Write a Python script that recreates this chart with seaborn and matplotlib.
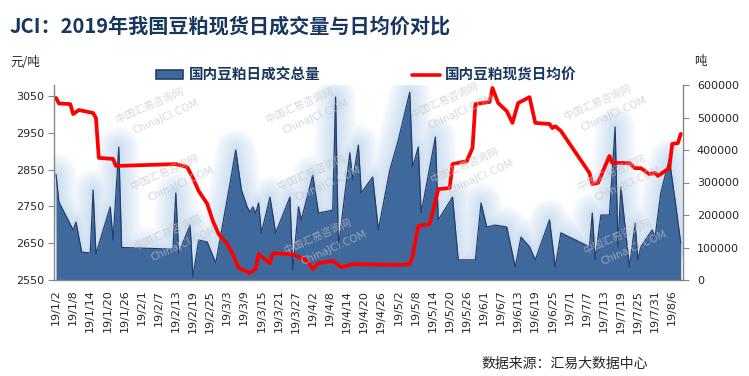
# JCI 2019 soybean meal spot: daily volume vs daily average price

import pandas as pd
import matplotlib.pyplot as plt
import seaborn as sns
from matplotlib.lines import Line2D
from matplotlib.patches import Patch
from matplotlib.ticker import FuncFormatter

# daily average price (yuan/ton)
price_dates = ['2019-01-02', '2019-01-03', '2019-01-07', '2019-01-08', '2019-01-10', '2019-01-15',
               '2019-01-16', '2019-01-17', '2019-01-22', '2019-01-23', '2019-02-13', '2019-02-17',
               '2019-02-19', '2019-02-21', '2019-02-24', '2019-02-26', '2019-02-28', '2019-03-03',
               '2019-03-05', '2019-03-07', '2019-03-11', '2019-03-13', '2019-03-14', '2019-03-18',
               '2019-03-19', '2019-03-26', '2019-03-31', '2019-04-02', '2019-04-04', '2019-04-09',
               '2019-04-12', '2019-04-16', '2019-05-02', '2019-05-06', '2019-05-07', '2019-05-09',
               '2019-05-13', '2019-05-14', '2019-05-16', '2019-05-20', '2019-05-21', '2019-05-26',
               '2019-05-28', '2019-05-29', '2019-06-03', '2019-06-04', '2019-06-06', '2019-06-09',
               '2019-06-11', '2019-06-13', '2019-06-17', '2019-06-19', '2019-06-24', '2019-06-25',
               '2019-06-26', '2019-06-28', '2019-07-08', '2019-07-09', '2019-07-11', '2019-07-15',
               '2019-07-16', '2019-07-22', '2019-07-24', '2019-07-26', '2019-07-29', '2019-07-31',
               '2019-08-01', '2019-08-05', '2019-08-06', '2019-08-08', '2019-08-09']
price_values = [3045, 3030, 3028, 3001, 3012, 3004,
                2990, 2882, 2879, 2860, 2865, 2857,
                2827, 2792, 2757, 2710, 2675, 2648,
                2620, 2583, 2569, 2580, 2620, 2596,
                2623, 2620, 2602, 2580, 2596, 2602,
                2585, 2593, 2591, 2593, 2615, 2697,
                2702, 2732, 2797, 2800, 2865, 2873,
                2909, 3028, 3034, 3072, 3031, 3009,
                2977, 3031, 3047, 2977, 2974, 2963,
                2968, 2955, 2841, 2811, 2814, 2887,
                2868, 2868, 2854, 2854, 2838, 2841,
                2833, 2854, 2920, 2922, 2947]

# daily traded volume (tons)
volume_dates = ['2019-01-02', '2019-01-03', '2019-01-08', '2019-01-09', '2019-01-11', '2019-01-14',
                '2019-01-15', '2019-01-16', '2019-01-21', '2019-01-22', '2019-01-24', '2019-01-25',
                '2019-02-12', '2019-02-13', '2019-02-14', '2019-02-18', '2019-02-19', '2019-02-21',
                '2019-02-24', '2019-02-27', '2019-03-04', '2019-03-06', '2019-03-08', '2019-03-10',
                '2019-03-11', '2019-03-12', '2019-03-13', '2019-03-14', '2019-03-15', '2019-03-18',
                '2019-03-20', '2019-03-25', '2019-03-26', '2019-03-28', '2019-03-29', '2019-04-02',
                '2019-04-04', '2019-04-09', '2019-04-10', '2019-04-11', '2019-04-15', '2019-04-16',
                '2019-04-18', '2019-04-19', '2019-04-23', '2019-04-25', '2019-04-29', '2019-05-02',
                '2019-05-06', '2019-05-07', '2019-05-09', '2019-05-10', '2019-05-15', '2019-05-16',
                '2019-05-21', '2019-05-23', '2019-05-29', '2019-05-31', '2019-06-02', '2019-06-05',
                '2019-06-09', '2019-06-12', '2019-06-14', '2019-06-17', '2019-06-19', '2019-06-24',
                '2019-06-26', '2019-06-28', '2019-07-08', '2019-07-09', '2019-07-10', '2019-07-12',
                '2019-07-15', '2019-07-17', '2019-07-18', '2019-07-19', '2019-07-22', '2019-07-24',
                '2019-07-25', '2019-07-26', '2019-07-30', '2019-07-31', '2019-08-02', '2019-08-05',
                '2019-08-07', '2019-08-09']
volume_values = [325000, 240000, 154000, 178000, 86000, 83000,
                 277000, 80000, 225000, 123000, 409000, 100000,
                 95000, 268000, 83000, 169000, 10000, 123000,
                 117000, 52000, 298000, 400000, 277000, 225000,
                 209000, 225000, 206000, 237000, 145000, 255000,
                 145000, 255000, 31000, 225000, 185000, 323000,
                 206000, 215000, 563000, 100000, 391000, 308000,
                 415000, 268000, 317000, 154000, 338000, 431000,
                 578000, 348000, 409000, 206000, 440000, 185000,
                 255000, 62000, 62000, 237000, 163000, 169000,
                 163000, 40000, 132000, 102000, 62000, 185000,
                 40000, 145000, 102000, 206000, 62000, 200000,
                 200000, 471000, 102000, 286000, 40000, 175000,
                 62000, 102000, 154000, 132000, 268000, 372000,
                 246000, 114000]

tick_labels = ['19/1/2', '19/1/8', '19/1/14', '19/1/20', '19/1/26', '19/2/1', '19/2/7',
               '19/2/13', '19/2/19', '19/2/25', '19/3/3', '19/3/9', '19/3/15', '19/3/21',
               '19/3/27', '19/4/2', '19/4/8', '19/4/14', '19/4/20', '19/4/26', '19/5/2',
               '19/5/8', '19/5/14', '19/5/20', '19/5/26', '19/6/1', '19/6/7', '19/6/13',
               '19/6/19', '19/6/25', '19/7/1', '19/7/7', '19/7/13', '19/7/19', '19/7/25',
               '19/7/31', '19/8/6']

sns.set_style('white')
plt.rcParams['font.family'] = ['Noto Sans CJK SC', 'DejaVu Sans']

price = pd.DataFrame({'date': pd.to_datetime(price_dates), 'price': price_values})
volume = pd.DataFrame({'date': pd.to_datetime(volume_dates), 'volume': volume_values})

navy = '#17375E'
area_blue = '#3F699D'
area_edge = '#22406A'
axis_gray = '#868686'

fig = plt.figure(figsize=(7.49, 3.76), dpi=100)
ax = fig.add_axes([54 / 749, 1 - 280 / 376, (683 - 54) / 749, (280 - 85) / 376])

# soft glow around the volume area (many thin layers so it fades smoothly)
for lw in range(30, 3, -2):
    ax.plot(volume['date'], volume['volume'], color='#A6C8EE', lw=lw, alpha=0.045,
            solid_joinstyle='round', solid_capstyle='round', zorder=1)
ax.fill_between(volume['date'], volume['volume'], 0, color=area_blue, zorder=2, lw=0)
ax.plot(volume['date'], volume['volume'], color=area_edge, lw=0.9, zorder=3)

ax2 = ax.twinx()
sns.lineplot(data=price, x='date', y='price', ax=ax2, color='#FF0000', lw=2.7)

# axes: volume on the right, price on the left
ax.yaxis.tick_right()
ax2.yaxis.tick_left()
ax.set_ylim(0, 600000)
ax.set_yticks(range(0, 600001, 100000))
ax.yaxis.set_major_formatter(FuncFormatter(lambda v, p: f'{int(v)}'))
ax2.set_ylim(2550, 3080)
ax2.set_yticks(range(2550, 3051, 100))
ax.set_xlim(pd.Timestamp('2019-01-01 07:00'), pd.Timestamp('2019-08-09 19:00'))
tick_dates = pd.date_range('2019-01-02', '2019-08-06', freq='6D')
ax.set_xticks(tick_dates)
ax.set_xticklabels(tick_labels, rotation=90)
for a_ in (ax, ax2):
    a_.set_xlabel('')
    a_.set_ylabel('')
    for s in a_.spines.values():
        s.set_visible(False)
ax.spines['right'].set_visible(True)
ax.spines['bottom'].set_visible(True)
ax2.spines['left'].set_visible(True)
for s in [ax.spines['right'], ax.spines['bottom'], ax2.spines['left']]:
    s.set_color(axis_gray)
    s.set_linewidth(1.0)
ax.tick_params(axis='both', length=4, color=axis_gray, labelsize=8, pad=3, direction='out')
ax2.tick_params(axis='y', length=4, color=axis_gray, labelsize=8, pad=3, direction='out')
for lab in ax.get_xticklabels() + ax.get_yticklabels() + ax2.get_yticklabels():
    lab.set_fontfamily('DejaVu Sans')
ax.tick_params(axis='y', pad=6)

# faint watermark
for cx, cy in [(150, 105), (300, 105), (445, 100), (598, 102), (165, 172), (312, 172),
               (465, 165), (612, 172), (168, 232), (318, 236), (618, 236)]:
    fig.text(cx / 749, 1 - cy / 376, '中国汇易咨询网', rotation=24, fontsize=7.5,
             color='#C4C4C4', alpha=0.65, ha='center', va='center')
    fig.text((cx + 16) / 749, 1 - (cy + 12) / 376, 'ChinaJCI.COM', rotation=24, fontsize=7.5,
             color='#C4C4C4', alpha=0.65, ha='center', va='center', family='DejaVu Sans')

# title, units, legend, source
fig.text(10 / 749, 1 - 26 / 376, 'JCI：2019年我国豆粕现货日成交量与日均价对比', fontsize=14.5,
         fontweight='bold', color=navy, va='center', ha='left')
fig.text(10 / 749, 1 - 62 / 376, '元/吨', fontsize=9, va='center', ha='left')
fig.text(694 / 749, 1 - 62 / 376, '吨', fontsize=9, va='center', ha='left')
fig.text(565 / 749, 1 - 364 / 376, '数据来源：汇易大数据中心', fontsize=10, va='center', ha='center')

handles = [Patch(facecolor=area_blue, edgecolor=area_edge, lw=1.2),
           Line2D([0], [0], color='#FF0000', lw=2.6)]
leg = fig.legend(handles, ['国内豆粕日成交总量', '国内豆粕现货日均价'], ncol=2, loc='center',
                 bbox_to_anchor=(366 / 749, 1 - 75 / 376), frameon=False, fontsize=10.5,
                 handlelength=1.9, handleheight=0.55, handletextpad=0.35, columnspacing=6.3)
for t in leg.get_texts():
    t.set_color(navy)
    t.set_fontweight('bold')

plt.savefig('out.png', dpi=100)
